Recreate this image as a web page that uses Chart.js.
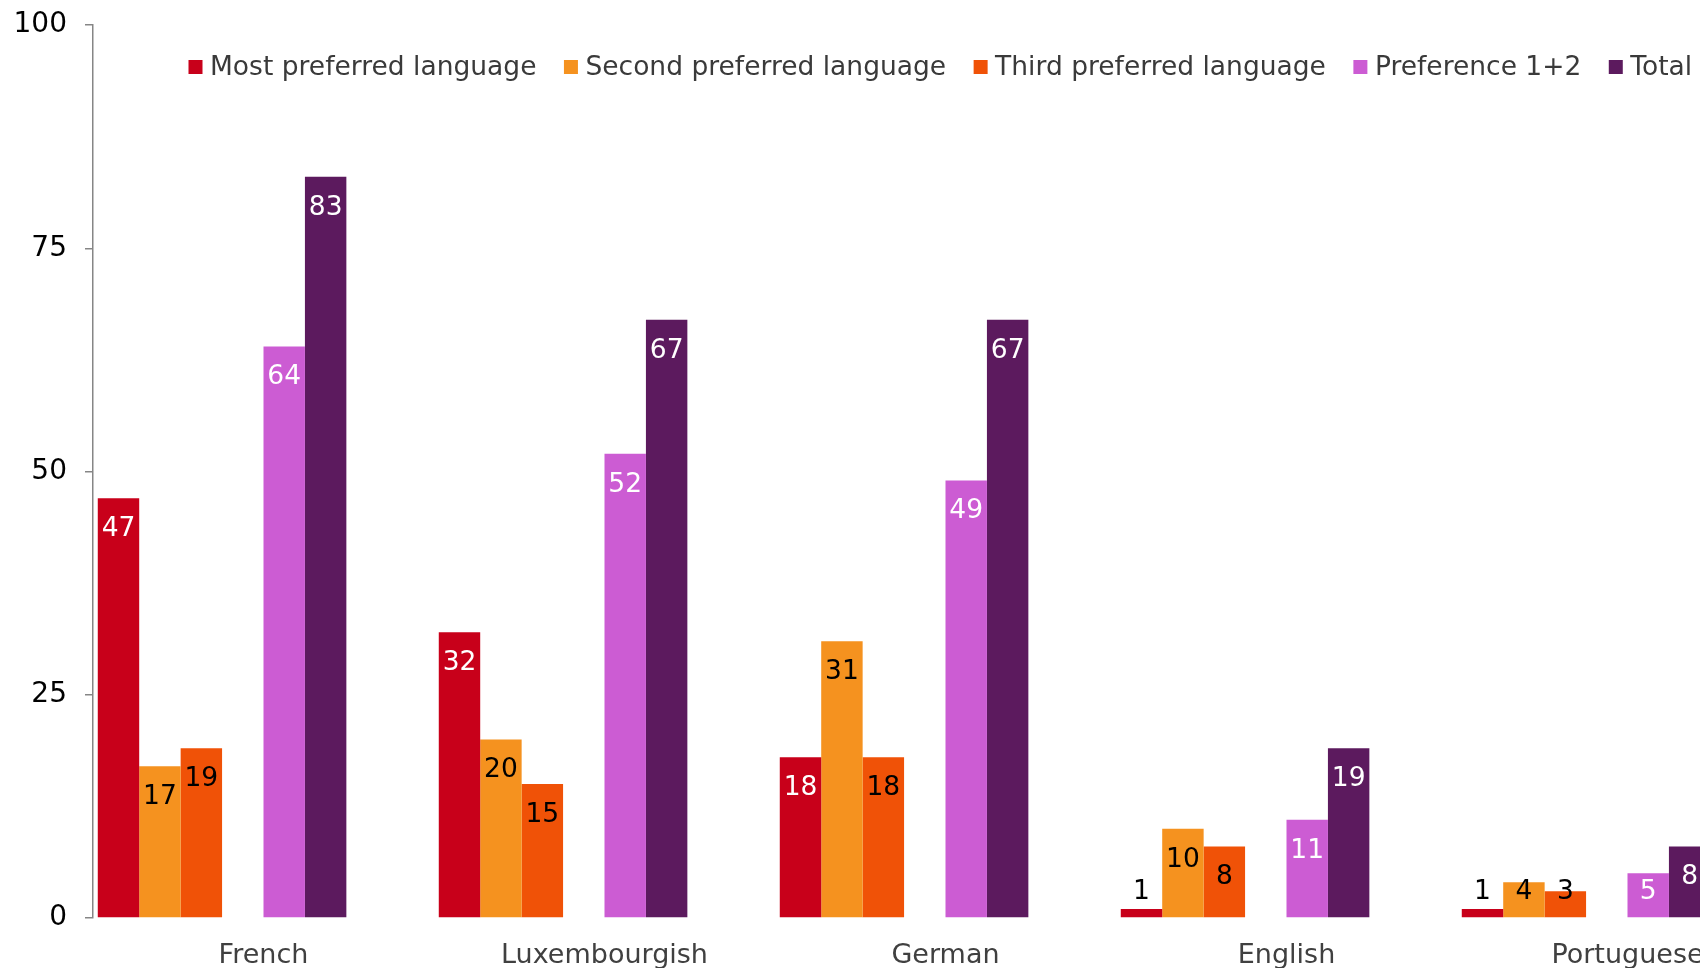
<!DOCTYPE html>
<html>
<head>
<meta charset="utf-8">
<script src="https://cdn.jsdelivr.net/npm/chart.js@4"></script>
<style>
  html, body { margin: 0; padding: 0; background: #fff; overflow: hidden; }
  #wrap { position: absolute; left: 0; top: 0; width: 1800px; height: 968px; }
</style>
</head>
<body>
<div id="wrap"><canvas id="chart" width="1800" height="968"></canvas></div>
<script>
// Languages and preference shares (%)
const categories = ['French', 'Luxembourgish', 'German', 'English', 'Portuguese'];
const mostPreferred   = [47, 32, 18, 1, 1];
const secondPreferred = [17, 20, 31, 10, 4];
const thirdPreferred  = [19, 15, 18, 8, 3];
const preference12    = [64, 52, 49, 11, 5];
const totalShare      = [83, 67, 67, 19, 8];
const yTicks = [0, 25, 50, 75, 100];

const FONT = '"DejaVu Sans", Verdana, sans-serif';
const empty = categories.map(() => null);

// Each group has eight slots; three are left empty as spacers
const series = [
  { label: 'Most preferred language',   data: mostPreferred,   color: '#C8001A', inside: '#ffffff' },
  { label: 'Second preferred language', data: secondPreferred, color: '#F5921F', inside: '#000000' },
  { label: 'Third preferred language',  data: thirdPreferred,  color: '#F05207', inside: '#000000' },
  { label: '', data: empty, color: 'rgba(0,0,0,0)', inside: '#000' },
  { label: 'Preference 1+2',            data: preference12,    color: '#CC5CD3', inside: '#ffffff' },
  { label: 'Total',                     data: totalShare,      color: '#5C1A5E', inside: '#ffffff' },
  { label: '', data: empty, color: 'rgba(0,0,0,0)', inside: '#000' },
  { label: '', data: empty, color: 'rgba(0,0,0,0)', inside: '#000' }
];

// Value labels near the top inside each bar; short bars get the label lifted above
const valueLabels = {
  id: 'valueLabels',
  afterDatasetsDraw(chart) {
    const ctx = chart.ctx;
    ctx.save();
    ctx.font = '26.5px ' + FONT;
    ctx.textAlign = 'center';
    ctx.textBaseline = 'middle';
    chart.data.datasets.forEach((ds, di) => {
      if (!ds.label) return;
      const meta = chart.getDatasetMeta(di);
      meta.data.forEach((bar, i) => {
        const v = ds.data[i];
        if (v == null) return;
        const y = Math.min(bar.y + 31, bar.base - 25);
        ctx.fillStyle = y < bar.y ? '#000000' : series[di].inside;
        ctx.fillText(String(v), bar.x, y);
      });
    });
    ctx.restore();
  }
};

// Single-row legend drawn inside the plot area
const insideLegend = {
  id: 'insideLegend',
  afterDraw(chart) {
    const ctx = chart.ctx;
    ctx.save();
    ctx.font = '26.5px ' + FONT;
    ctx.textBaseline = 'middle';
    let x = 188.5;
    const yc = 67;
    chart.data.datasets.forEach((ds) => {
      if (!ds.label) return;
      ctx.fillStyle = ds.backgroundColor;
      ctx.fillRect(x, yc - 7, 14, 14);
      ctx.fillStyle = '#3a3a3a';
      ctx.fillText(ds.label, x + 21.5, yc + 1);
      x += 21.5 + ctx.measureText(ds.label).width + 27.5;
    });
    ctx.restore();
  }
};

new Chart(document.getElementById('chart'), {
  type: 'bar',
  data: {
    labels: categories,
    datasets: series.map(s => ({
      label: s.label,
      data: s.data,
      backgroundColor: s.color,
      borderWidth: 0
    }))
  },
  options: {
    responsive: false,
    animation: false,
    events: [],
    layout: { padding: { left: 0, right: 2, top: 25, bottom: 0 } },
    datasets: { bar: { categoryPercentage: 0.972, barPercentage: 1.0 } },
    plugins: { legend: { display: false }, tooltip: { enabled: false } },
    scales: {
      x: {
        offset: true,
        grid: { display: false, drawTicks: false },
        border: { display: false },
        ticks: { color: '#404040', font: { family: FONT, size: 27 }, padding: 22, maxRotation: 0, autoSkip: false },
        afterFit(scale) { scale.height = 50; scale.paddingLeft = 0; scale.paddingRight = 0; }
      },
      y: {
        min: 0,
        max: 100,
        afterBuildTicks(scale) { scale.ticks = yTicks.map(v => ({ value: v })); },
        grid: { display: true, drawOnChartArea: false, drawTicks: true, tickLength: 8, color: '#868686', lineWidth: 1.5 },
        border: { display: true, color: '#868686', width: 1.5 },
        ticks: { color: '#000000', font: { family: FONT, size: 28 }, padding: 18 },
        afterFit(scale) { scale.width = 93; scale.paddingTop = 0; scale.paddingBottom = 0; }
      }
    }
  },
  plugins: [valueLabels, insideLegend]
});
</script>
</body>
</html>
